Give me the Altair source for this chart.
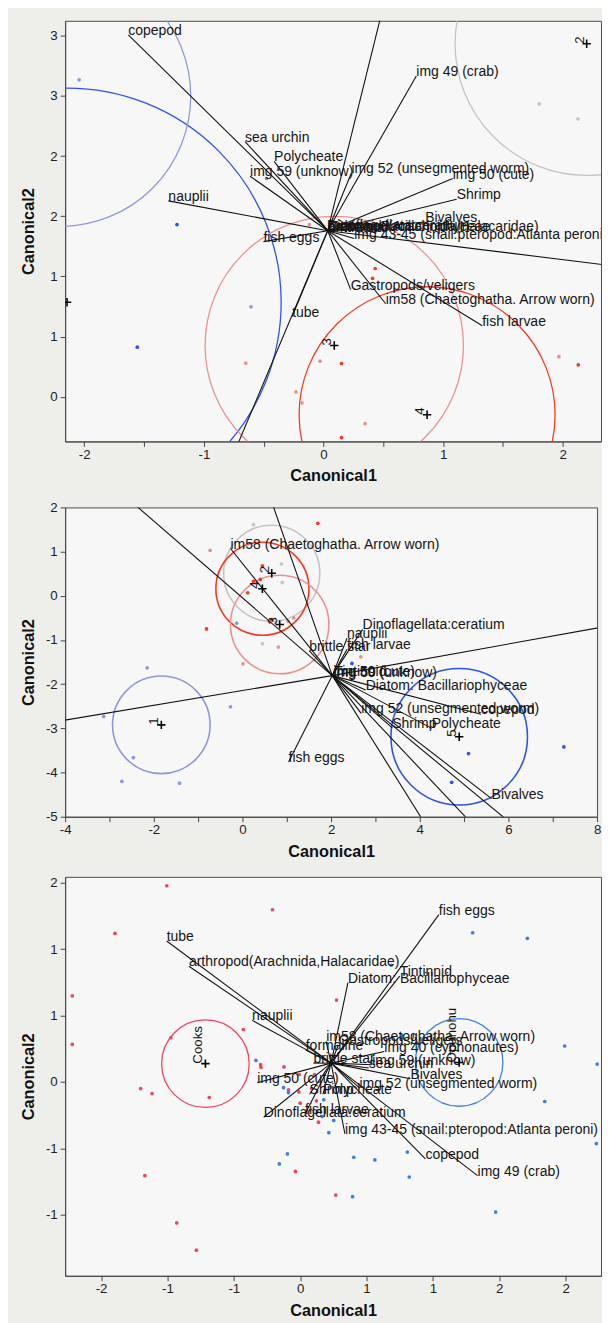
import altair as alt
import pandas as pd

FONT = "Liberation Sans"

# ======================= Panel 1 =======================
p1_center = [0.035, 1.38]
p1_ray_labels = ["copepod", "sea urchin", "Polycheate", "img 59 (unknow)", "nauplii",
                 "img 52 (unsegmented worm)", "img 49 (crab)", "img 50 (cute)", "Shrimp", "Bivalves",
                 "img 43-45 (snail:pteropod:Atlanta peroni)", "arthropod(Arachnida,Halacaridae)",
                 "Dinoflagellata:ceratium", "Diatom: Bacillariophyceae", "brittle star", "Tintinnid",
                 "fish eggs", "tube", "Gastropods/veligers", "im58 (Chaetoghatha. Arrow worn)",
                 "fish larvae", "", "", ""]
p1_ray_x = [-1.632, -0.656, -0.413, -0.614, -1.297, 0.233, 0.776, 1.08, 1.113, 0.85,
            0.257, 0.04, 0.03, 0.045, 0.035, 0.05, -0.502, -0.262, 0.227, 0.52, 1.327,
            0.56, 2.75, -0.853]
p1_ray_y = [3.008, 2.12, 1.956, 1.833, 1.628, 1.86, 2.667, 1.814, 1.642, 1.453,
            1.315, 1.375, 1.385, 1.38, 1.37, 1.38, 1.289, 0.666, 0.89, 0.773, 0.59,
            3.486, 1.048, -0.716]
p1_pt_group = ["g5", "g5", "g5", "g1", "g1",
               "g4", "g4", "g4", "g4", "g4",
               "g3", "g3", "g3", "g3", "g3", "g3", "g3",
               "g2", "g2"]
p1_pt_x = [-2.043, -0.606, -0.477, -1.225, -1.557,
           0.432, 0.41, 0.15, 0.15, 2.13,
           -0.65, -0.029, -0.23, -0.18, 0.348, 1.968, -0.118,
           1.803, 2.127]
p1_pt_y = [2.634, 0.748, 1.814, 1.431, 0.412,
           1.066, 0.984, 0.276, -0.34, 0.265,
           0.279, 0.295, 0.04, -0.052, -0.224, 0.333, 1.431,
           2.434, 2.31]
p1_grp = ["g1", "g2", "g3", "g4", "g5"]
p1_grp_name = ["1", "2", "3", "4", "5"]
p1_grp_x = [-2.144, 2.2, 0.09, 0.866, -2.2]
p1_grp_y = [0.785, 2.934, 0.426, -0.15, 2.50]
p1_grp_r = [1.79, 1.10, 1.08, 1.07, 1.09]

# ======================= Panel 2 =======================
p2_center = [2.026, -1.806]
p2_ray_labels = ["im58 (Chaetoghatha. Arrow worn)", "nauplii", "Dinoflagellata:ceratium", "fish larvae",
                 "brittle star", "img 59 (unknow)", "img 50 (cute)", "Tintinnid",
                 "Diatom: Bacillariophyceae", "img 52 (unsegmented worm)", "copepod", "Shrimp",
                 "Polycheate", "Bivalves", "fish eggs", "", "", "", "", "", "", ""]
p2_ray_x = [-0.27, 2.36, 2.71, 2.36, 1.505, 2.06, 2.05, 2.07,
            2.78, 2.68, 5.38, 3.38, 4.27, 5.62, 1.04,
            4.55, 5.63, 6.65, -5.0, 9.0, -3.23, 0.44]
p2_ray_y = [1.07, -0.96, -0.76, -1.21, -1.24, -1.83, -1.81, -1.82,
            -2.13, -2.66, -2.68, -2.99, -3.0, -4.59, -3.76,
            -5.85, -5.64, -5.64, -2.98, -0.55, 2.76, 2.76]
p2_pt_group = ["g4"] * 7 + ["g2"] * 4 + ["g3"] * 6 + ["g5"] * 7 + ["g1"] * 4
p2_pt_x = [1.70, 0.45, 0.40, 0.25, 0.12, 0.66, -0.81,
           0.25, 0.88, 0.90, 0.45,
           -0.73, 1.03, 1.16, 0.81, 0.01, 2.67,
           -0.13, -2.15, -3.13, -0.27, -2.46, -2.72, -1.42,
           2.47, 5.10, 4.72, 7.25]
p2_pt_y = [1.64, 0.68, 0.37, 0.33, 0.07, -0.54, -0.75,
           1.61, 0.72, 0.30, -1.08,
           1.03, -0.58, -0.50, -1.16, -1.54, -1.38,
           -0.62, -1.63, -2.73, -2.51, -3.66, -4.20, -4.24,
           -1.53, -3.57, -4.22, -3.42]
p2_grp = ["g2", "g4", "g3", "g5", "g1"]
p2_grp_name = ["2", "4", "3", "1", "5"]
p2_grp_x = [0.66, 0.45, 0.84, -1.83, 4.89]
p2_grp_y = [0.51, 0.16, -0.65, -2.92, -3.19]
p2_grp_r = [1.085, 1.05, 1.11, 1.10, 1.54]

# ======================= Panel 3 =======================
p3_center = [0.233, 0.142]
p3_ray_labels = ["fish eggs", "tube", "arthropod(Arachnida,Halacaridae)", "Diatom: Bacillariophyceae",
                 "Tintinnid", "nauplii", "im58 (Chaetoghatha. Arrow worn)", "Gastropods/veligers",
                 "img 40 (cyphonautes)", "formaline", "brittle star", "sea urchin", "img 59 (unknow)",
                 "Bivalves", "img 50 (cute)", "img 52 (unsegmented worm)", "Shrimp", "Polycheate",
                 "fish larvae", "Dinoflagellata:ceratium", "img 43-45 (snail:pteropod:Atlanta peroni)",
                 "copepod", "img 49 (crab)"]
p3_ray_x = [1.045, -1.006, -0.838, 0.36, 0.75, -0.362, 0.196, 0.288, 0.634, 0.042, 0.10, 0.517,
            0.543, 0.831, -0.324, 0.447, 0.071, 0.172, 0.037, -0.275, 0.337, 0.944, 1.337]
p3_ray_y = [1.26, 1.062, 0.872, 0.748, 0.797, 0.464, 0.306, 0.278, 0.229, 0.241, 0.142, 0.105,
            0.13, 0.024, -0.006, -0.044, -0.093, -0.093, -0.241, -0.266, -0.39, -0.58, -0.706]
p3_pt_x_cooks = [-1.005, -1.395, -1.717, -1.717, -0.975, -1.202, -1.116, -1.17, -0.93, -0.782,
                 -0.209, 0.274, -0.428, -0.685, -0.298, -0.295, -0.122, -0.088, -0.01, 0.086,
                 0.0, 0.138, -0.036, 0.268, -0.007, 0.109, 0.122]
p3_pt_y_cooks = [1.478, 1.119, 0.649, 0.283, 0.333, -0.05, -0.088, -0.706, -1.062, -1.267,
                 1.297, 0.617, 0.395, -0.117, 0.13, 0.11, 0.113, -0.06, -0.075, -0.05,
                 -0.16, -0.303, -0.674, -0.852, 0.056, 0.056, -0.142]
p3_pt_x_opu = [-0.333, 0.687, 1.30, 1.712, 1.993, 2.238, -0.125, 0.178, 0.253, 0.166, 0.216,
               1.843, 2.232, -0.096, -0.157, 0.404, 0.563, 0.808, 0.822, 0.395, 1.473, -0.088]
p3_pt_y_opu = [0.162, 0.879, 1.124, 1.082, 0.271, 0.135, -0.043, -0.134, -0.29, -0.26, -0.382,
               -0.147, -0.464, -0.542, -0.617, -0.567, -0.587, -0.528, -0.716, -0.864, -0.98, -0.08]
p3_grp = ["Cooks", "Opunohu"]
p3_grp_name = ["Cooks", "Opunohu"]
p3_grp_x = [-0.714, 1.198]
p3_grp_y = [0.138, 0.147]
p3_grp_r = [0.33, 0.33]

# ======================= helpers =======================
LBL = "(datum.value < 0 ? '-' : '') + toString(round(abs(datum.value)))"


def make_x(field, dom, vals, expr, W):
    return alt.X(field, type="quantitative",
                 scale=alt.Scale(domain=dom, nice=False, zero=False),
                 axis=alt.Axis(title="Canonical1", values=vals, labelExpr=expr, grid=False,
                               labelFont=FONT, labelFontSize=13.5, labelColor="#1e1e1e",
                               labelPadding=1, tickSize=5, tickColor="#444", domainColor="#444",
                               labelFlush=False, labelOverlap=False,
                               titleFont=FONT, titleFontSize=16.5, titleFontWeight="bold",
                               titleColor="#111", titleX=W / 2, titleY=27,
                               titleAlign="center", titleBaseline="top"))


def make_y(field, dom, vals, expr, H):
    return alt.Y(field, type="quantitative",
                 scale=alt.Scale(domain=dom, nice=False, zero=False),
                 axis=alt.Axis(title="Canonical2", values=vals, labelExpr=expr, grid=False,
                               labelFont=FONT, labelFontSize=13.5, labelColor="#1e1e1e",
                               labelPadding=3, tickSize=5, tickColor="#444", domainColor="#444",
                               labelFlush=False, labelOverlap=False,
                               titleFont=FONT, titleFontSize=16.5, titleFontWeight="bold",
                               titleColor="#111", titleX=-29, titleY=H / 2, titleAngle=270,
                               titleAlign="center", titleBaseline="bottom"))


def panel(center, ray_labels, ray_x, ray_y, pt_group, pt_x, pt_y,
          grp, grp_name, grp_x, grp_y, grp_r,
          xdom, ydom, W, H, xvals, yvals, xexpr, yexpr, cdom, crange, lw=1.3):
    rays = pd.DataFrame({"cx": [center[0]] * len(ray_x), "cy": [center[1]] * len(ray_x),
                         "ex": ray_x, "ey": ray_y, "label": ray_labels})
    pts = pd.DataFrame({"x": pt_x, "y": pt_y, "grp": pt_group})
    grps = pd.DataFrame({"x": grp_x, "y": grp_y, "grp": grp, "name": grp_name, "r": grp_r})
    ppu = W / (xdom[1] - xdom[0])
    color = alt.Color("grp:N", scale=alt.Scale(domain=cdom, range=crange), legend=None)

    def X(f):
        return make_x(f, xdom, xvals, xexpr, W)

    def Y(f):
        return make_y(f, ydom, yvals, yexpr, H)

    circles = alt.Chart(grps).mark_point(shape="circle", filled=False, strokeWidth=lw,
                                         opacity=1, clip=True).encode(
        x=X("x"), y=Y("y"), color=color,
        size=alt.Size("r:Q", scale=alt.Scale(type="pow", exponent=2, domain=[0, 1],
                                             range=[0, (2 * ppu) ** 2]), legend=None))
    dots = alt.Chart(pts).mark_circle(size=14, opacity=1, clip=True).encode(
        x=X("x"), y=Y("y"), color=color)
    rules = alt.Chart(rays).mark_rule(color="#111111", strokeWidth=1.1, clip=True).encode(
        x=X("cx"), y=Y("cy"), x2="ex", y2="ey")
    labels = alt.Chart(rays).transform_filter("datum.label != ''").mark_text(
        align="left", baseline="alphabetic", font=FONT, fontSize=14.2, color="#151515",
        clip=True).encode(x=X("ex"), y=Y("ey"), text="label:N")
    marks = alt.Chart(grps).mark_point(shape="M-1,0L1,0M0,-1L0,1", size=72, filled=False,
                                       color="#000000", strokeWidth=1.6, opacity=1,
                                       clip=True).encode(x=X("x"), y=Y("y"))
    mlabels = alt.Chart(grps).mark_text(angle=270, align="left", baseline="bottom", font=FONT,
                                        fontSize=13.5, color="#151515", clip=True).encode(
        x=X("x"), y=Y("y"), text="name:N")
    return alt.layer(circles, dots, rules, labels, marks, mlabels).properties(width=W, height=H)


BLUE, PERI, RED, SALMON, GRAY = "#2f52ee", "#8e96de", "#f23a22", "#e99191", "#c4c4c4"
CDOM = ["g1", "g2", "g3", "g4", "g5"]
CRANGE = [BLUE, GRAY, SALMON, RED, PERI]

p1 = panel(p1_center, p1_ray_labels, p1_ray_x, p1_ray_y, p1_pt_group, p1_pt_x, p1_pt_y,
           p1_grp, p1_grp_name, p1_grp_x, p1_grp_y, p1_grp_r,
           [-2.16, 2.32], [-0.372, 3.125], 544, 427,
           [-2, -1.5, -1, -0.5, 0, 0.5, 1, 1.5, 2], [0, 0.5, 1, 1.5, 2, 2.5, 3],
           "abs(datum.value - round(datum.value)) > 0.01 ? '' : " + LBL, LBL, CDOM, CRANGE)

p2 = panel(p2_center, p2_ray_labels, p2_ray_x, p2_ray_y, p2_pt_group, p2_pt_x, p2_pt_y,
           p2_grp, p2_grp_name, p2_grp_x, p2_grp_y, p2_grp_r,
           [-4, 8], [-5, 2], 540, 314,
           [-4, -3, -2, -1, 0, 1, 2, 3, 4, 5, 6, 7, 8], [-5, -4, -3, -2, -1, 0, 1, 2],
           "abs(datum.value % 2) > 0.01 ? '' : " + LBL, LBL, CDOM, CRANGE, lw=1.6)

p3_pt_group = ["Cooks"] * len(p3_pt_x_cooks) + ["Opunohu"] * len(p3_pt_x_opu)
p3 = panel(p3_center, p3_ray_labels, p3_ray_x, p3_ray_y, p3_pt_group,
           p3_pt_x_cooks + p3_pt_x_opu, p3_pt_y_cooks + p3_pt_y_opu,
           p3_grp, p3_grp_name, p3_grp_x, p3_grp_y, p3_grp_r,
           [-1.771, 2.267], [-1.46, 1.545], 544, 405,
           [-1.5, -1, -0.5, 0, 0.5, 1, 1.5, 2], [-1, -0.5, 0, 0.5, 1, 1.5],
           LBL, LBL, ["Cooks", "Opunohu"], ["#e8475f", "#3d80dc"])

chart = alt.vconcat(p1, p2, p3, spacing=15).resolve_scale(
    x="independent", y="independent", color="independent", size="independent"
).properties(
    background="#eeeeea",
    padding={"left": 12, "top": 2, "right": 0, "bottom": 0},
).configure_view(fill="#f7f7f7", stroke="#4a4a4a", strokeWidth=1)

chart.save("out.html", embed_options={"renderer": "svg", "actions": False})
